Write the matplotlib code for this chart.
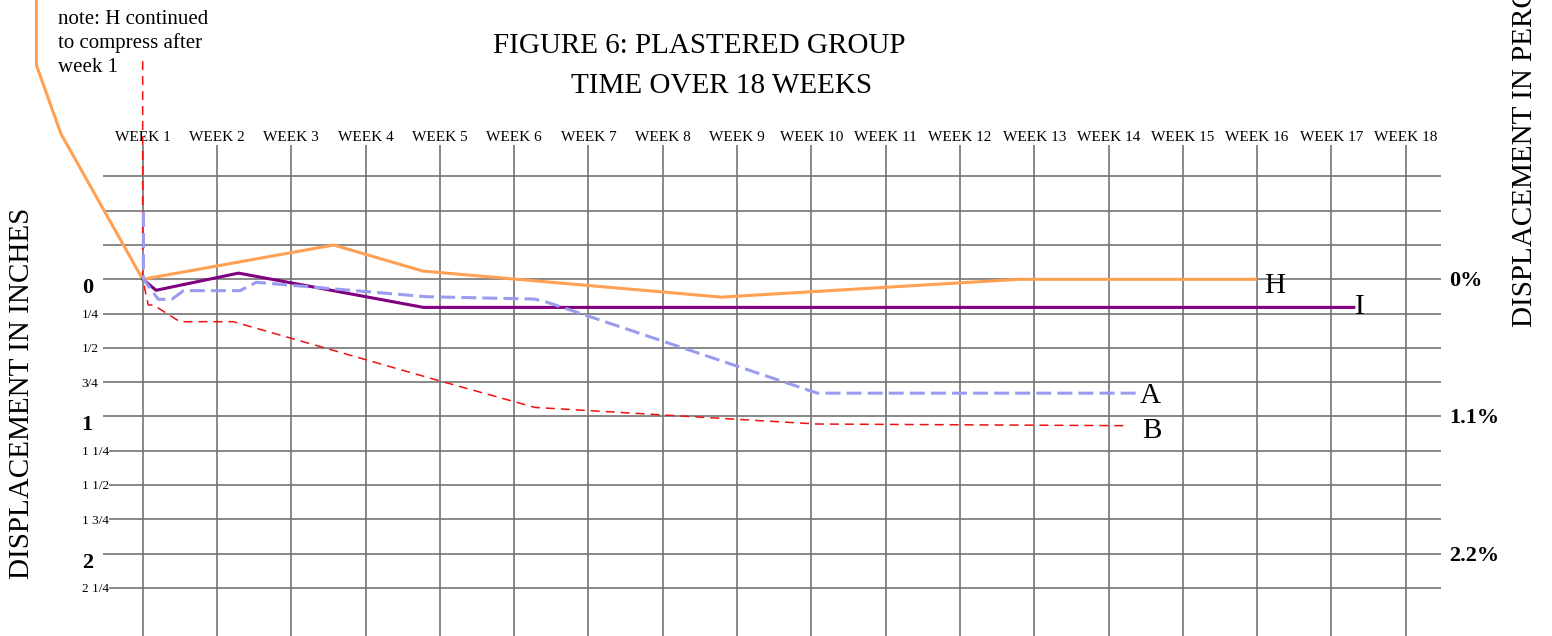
import matplotlib
matplotlib.use("Agg")
import matplotlib.pyplot as plt

plt.rcParams['font.family'] = ['Liberation Serif', 'DejaVu Serif']

# 週數（x）與位移英吋（y，向下為正）
weeks = list(range(1, 19))
week_labels = [f"WEEK {w}" for w in weeks]

h_weeks = [-0.43, -0.43, -0.10, 1.0, 3.57, 4.77, 8.79, 12.80, 15.98]
h_disp = [-2.30, -1.56, -1.06, 0.0, -0.25, -0.06, 0.13, 0.0, 0.0]

i_weeks = [1.0, 1.18, 2.29, 4.78, 17.30]
i_disp = [0.0, 0.08, -0.045, 0.205, 0.205]

a_weeks = [1.01, 1.01, 1.21, 1.39, 1.55, 2.31, 2.53, 4.82, 6.27, 6.42, 10.08, 14.40]
a_disp = [-0.49, 0.0, 0.146, 0.146, 0.083, 0.083, 0.022, 0.127, 0.144, 0.163, 0.83, 0.83]

b_weeks = [1.0, 1.0, 1.075, 1.143, 1.50, 2.22, 5.0, 6.28, 10.08, 14.24]
b_disp = [-1.59, 0.0, 0.187, 0.187, 0.309, 0.309, 0.741, 0.934, 1.055, 1.067]

# 左軸刻度
inch_ticks = [0, 0.25, 0.5, 0.75, 1, 1.25, 1.5, 1.75, 2, 2.25]
inch_labels = ['0', '1/4', '1/2', '3/4', '1', '1 1/4', '1 1/2', '1 3/4', '2', '2 1/4']
inch_bold = [True, False, False, False, True, False, False, False, True, False]
grid_rows = [-0.75, -0.5, -0.25] + inch_ticks

# 右軸百分比
pct_ticks = [0, 1, 2]
pct_labels = ['0%', '1.1%', '2.2%']

W, H = 1552, 636
fig = plt.figure(figsize=(W / 100, H / 100), dpi=100)
ax = fig.add_axes([0, 0, 1, 1])
ax.set_xlim(-0.9206, 19.968)
ax.set_ylim(2.6, -2.0357)
ax.axis('off')


def fx(x):
    return x / W


def fy(y):
    return 1 - y / H


# 網格
ax.vlines(weeks, -0.98, 2.7, color='#747474', lw=1.2, zorder=1)
ax.hlines(grid_rows, 0.466, 18.47, color='#747474', lw=1.2, zorder=1)

# 週標籤
for w, lab in zip(weeks, week_labels):
    ax.text(w, -1.010, lab, ha='center', va='baseline', fontsize=11)

# 左側英吋標籤
for t, lab, b in zip(inch_ticks, inch_labels, inch_bold):
    if b:
        ax.text(0.179, t + 0.102, lab, ha='left', va='baseline',
                fontsize=16, fontweight='bold', zorder=2)
    else:
        ax.text(0.179, t + 0.032, lab, ha='left', va='baseline', fontsize=9.5,
                zorder=2, bbox=dict(facecolor='white', edgecolor='none', pad=0.3))

# 右側百分比標籤
for t, lab in zip(pct_ticks, pct_labels):
    ax.text(18.581, t + 0.05, lab, ha='left', va='baseline',
            fontsize=16, fontweight='bold')

# 資料線
ax.plot(h_weeks, h_disp, color='#ffa052', lw=2.2, zorder=3)
ax.plot(b_weeks, b_disp, color='#ee1111', lw=1.1, dashes=(5.9, 3.9), zorder=3)
ax.plot(i_weeks, i_disp, color='#800080', lw=2.2, zorder=4)
ax.plot(a_weeks, a_disp, color='#9a9cf0', lw=2.2, dashes=(4.9, 2.0), zorder=5)

# 線尾標籤
end_labels = [('H', h_weeks, h_disp, 8, -14),
              ('I', i_weeks, i_disp, 1, -7),
              ('A', a_weeks, a_disp, 1.5, -10),
              ('B', b_weeks, b_disp, 15.5, -12.5)]
for lab, xs, ys, dx, dy in end_labels:
    ax.annotate(lab, (xs[-1], ys[-1]), xytext=(dx, dy), textcoords='offset pixels',
                ha='left', va='baseline', fontsize=21)

# 標題
fig.text(fx(699), fy(53.3), 'FIGURE 6: PLASTERED GROUP', ha='center', va='baseline', fontsize=21)
fig.text(fx(721.5), fy(93.3), 'TIME OVER 18 WEEKS', ha='center', va='baseline', fontsize=21)

# 註記
note_lines = ['note: H continued', 'to compress after', 'week 1']
for line, y in zip(note_lines, [23.5, 47.7, 72.0]):
    fig.text(fx(58), fy(y), line, ha='left', va='baseline', fontsize=15)

# 軸標題（右側在原圖中被上緣截斷）
fig.text(fx(22.5), fy(393), 'DISPLACEMENT IN INCHES', rotation=90,
         ha='center', va='center', fontsize=21)
fig.text(fx(1525), fy(327), 'DISPLACEMENT IN PERCENTAGE', rotation=90,
         ha='center', va='bottom', fontsize=21)

fig.savefig('out.png', dpi=100)
